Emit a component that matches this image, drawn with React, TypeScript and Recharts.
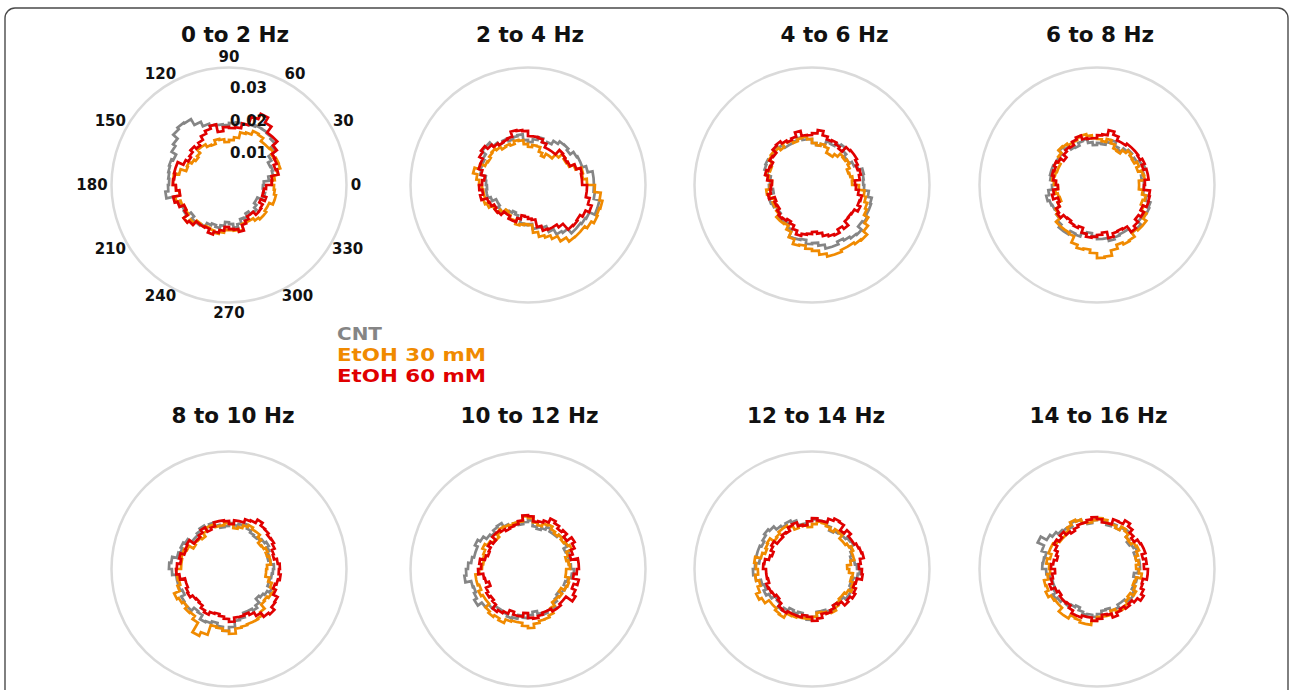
import React from 'react';
import { RadarChart, Radar, PolarAngleAxis, PolarRadiusAxis } from 'recharts';

// Phase histograms: 60 bins of 6° starting at 0°, probabilities in units of 1e-4
const UNIT = 1e-4;
const BIN_DEG = 6;

const cnt_0_2 = [107, 123, 138, 141, 138, 150, 175, 190, 196, 199, 200, 196, 193, 193, 190, 184, 187, 190, 197, 212, 233, 236, 230, 212, 203, 187, 193, 190, 187, 184, 187, 196, 172, 160, 157, 160, 144, 153, 153, 147, 135, 129, 135, 126, 114, 120, 132, 123, 110, 113, 101, 110, 113, 104, 95, 95, 110, 113, 107, 104];
const etoh30_0_2 = [132, 141, 153, 165, 166, 160, 169, 166, 166, 178, 181, 169, 165, 147, 138, 132, 141, 144, 132, 135, 144, 144, 132, 126, 132, 141, 138, 156, 172, 172, 163, 154, 169, 156, 151, 153, 172, 159, 147, 150, 144, 147, 153, 147, 138, 138, 141, 144, 126, 126, 126, 135, 141, 141, 135, 135, 147, 147, 141, 138];
const etoh60_0_2 = [131, 133, 155, 150, 160, 163, 181, 199, 199, 221, 239, 221, 193, 178, 175, 178, 166, 190, 181, 172, 160, 150, 159, 150, 144, 153, 172, 172, 169, 172, 163, 153, 175, 166, 151, 157, 172, 165, 150, 150, 147, 159, 150, 141, 129, 135, 138, 147, 129, 120, 111, 111, 123, 122, 119, 107, 120, 107, 108, 114];

const cnt_2_4 = [202, 202, 187, 175, 175, 172, 160, 166, 165, 156, 144, 138, 150, 141, 132, 138, 156, 153, 147, 156, 150, 160, 175, 175, 160, 154, 153, 150, 132, 129, 126, 129, 129, 120, 107, 107, 113, 116, 104, 98, 92, 98, 107, 119, 123, 120, 135, 135, 138, 157, 175, 181, 199, 199, 203, 206, 224, 224, 206, 202];
const etoh30_2_4 = [181, 169, 172, 153, 138, 135, 141, 126, 110, 110, 98, 107, 122, 123, 117, 126, 138, 141, 132, 138, 135, 144, 150, 147, 141, 144, 159, 172, 159, 150, 141, 138, 138, 144, 138, 126, 126, 114, 101, 107, 116, 116, 126, 123, 120, 123, 147, 162, 169, 181, 199, 214, 215, 215, 224, 233, 230, 233, 224, 205];
const etoh60_2_4 = [166, 166, 169, 156, 141, 138, 141, 144, 126, 126, 126, 138, 147, 150, 150, 166, 169, 172, 156, 153, 151, 157, 166, 178, 172, 160, 159, 147, 135, 141, 150, 141, 150, 132, 129, 120, 126, 123, 110, 110, 119, 119, 107, 95, 98, 104, 108, 132, 147, 150, 150, 160, 184, 187, 184, 193, 205, 193, 181, 181];

const cnt_4_6 = [157, 159, 162, 150, 141, 132, 132, 141, 153, 147, 138, 141, 129, 123, 129, 141, 141, 150, 144, 141, 141, 153, 159, 150, 150, 156, 153, 141, 129, 129, 132, 120, 135, 138, 135, 129, 129, 144, 141, 138, 150, 172, 172, 169, 181, 178, 187, 199, 199, 190, 196, 202, 205, 190, 196, 190, 190, 187, 175, 160];
const etoh30_4_6 = [123, 126, 120, 117, 126, 132, 126, 129, 117, 107, 108, 123, 129, 123, 129, 141, 150, 147, 141, 150, 156, 144, 153, 156, 153, 141, 135, 144, 135, 123, 129, 141, 135, 123, 132, 126, 135, 147, 147, 144, 157, 175, 190, 187, 196, 202, 215, 224, 224, 218, 218, 224, 227, 212, 199, 184, 178, 169, 162, 144];
const etoh60_4_6 = [132, 147, 153, 147, 153, 159, 159, 156, 138, 144, 150, 147, 156, 169, 159, 153, 154, 169, 156, 151, 157, 165, 162, 147, 150, 138, 141, 147, 138, 123, 126, 129, 138, 120, 126, 123, 132, 138, 135, 129, 135, 147, 159, 153, 150, 144, 150, 160, 165, 169, 157, 166, 150, 148, 150, 162, 153, 156, 144, 135];

const cnt_6_8 = [144, 138, 147, 156, 150, 141, 135, 144, 138, 126, 132, 144, 135, 126, 129, 123, 132, 144, 141, 132, 135, 147, 156, 144, 144, 144, 147, 147, 144, 132, 138, 150, 159, 153, 150, 147, 154, 163, 175, 175, 163, 166, 154, 148, 157, 166, 166, 175, 169, 166, 166, 181, 181, 169, 169, 175, 172, 156, 144, 144];
const etoh30_6_8 = [129, 147, 144, 132, 141, 132, 135, 141, 132, 120, 123, 135, 144, 135, 141, 144, 153, 159, 156, 150, 150, 156, 159, 147, 138, 129, 129, 132, 138, 132, 120, 129, 123, 120, 132, 147, 153, 169, 169, 169, 172, 193, 202, 199, 209, 224, 221, 205, 193, 199, 196, 181, 187, 187, 175, 157, 147, 153, 141, 129];
const etoh60_6_8 = [147, 159, 159, 150, 160, 153, 156, 156, 156, 150, 150, 162, 172, 156, 153, 144, 144, 147, 159, 153, 141, 144, 138, 126, 138, 144, 138, 141, 135, 126, 120, 135, 141, 126, 132, 144, 150, 138, 135, 141, 144, 138, 153, 162, 159, 153, 147, 166, 156, 154, 157, 178, 169, 157, 166, 154, 166, 165, 163, 144];

const cnt_8_10 = [138, 129, 123, 129, 135, 141, 135, 129, 126, 129, 135, 147, 141, 135, 141, 132, 129, 138, 150, 144, 153, 147, 141, 141, 156, 162, 157, 163, 178, 184, 175, 163, 163, 163, 157, 169, 172, 172, 160, 163, 178, 175, 169, 178, 190, 178, 160, 156, 141, 141, 147, 138, 123, 129, 135, 144, 129, 129, 132, 135];
const etoh30_8_10 = [117, 129, 129, 123, 129, 123, 120, 132, 141, 141, 147, 141, 132, 126, 138, 141, 135, 135, 144, 144, 135, 123, 129, 132, 126, 141, 150, 150, 147, 147, 162, 160, 157, 166, 184, 178, 172, 181, 178, 190, 224, 212, 181, 184, 190, 199, 184, 181, 178, 178, 175, 163, 147, 144, 150, 153, 138, 126, 114, 114];
const etoh60_8_10 = [156, 150, 141, 144, 153, 159, 157, 163, 165, 175, 163, 160, 150, 150, 138, 147, 150, 150, 138, 132, 147, 138, 132, 132, 150, 147, 144, 156, 150, 160, 162, 153, 138, 138, 144, 147, 138, 135, 138, 147, 153, 144, 141, 147, 153, 162, 150, 150, 147, 154, 166, 181, 187, 175, 172, 157, 148, 153, 159, 153];

const cnt_10_12 = [132, 126, 129, 135, 126, 138, 147, 141, 132, 132, 141, 132, 126, 132, 150, 144, 138, 147, 141, 150, 162, 159, 151, 157, 169, 178, 169, 169, 175, 184, 190, 196, 178, 175, 181, 190, 175, 163, 151, 150, 153, 159, 156, 144, 150, 141, 132, 141, 147, 141, 144, 132, 123, 117, 126, 129, 120, 126, 135, 141];
const etoh30_10_12 = [129, 126, 120, 129, 147, 141, 135, 141, 135, 141, 150, 147, 138, 144, 156, 162, 147, 147, 144, 147, 150, 141, 132, 135, 144, 153, 144, 141, 138, 141, 150, 162, 162, 157, 166, 160, 160, 175, 181, 175, 181, 169, 166, 166, 175, 181, 169, 163, 162, 156, 138, 126, 126, 129, 117, 129, 132, 129, 117, 117];
const etoh60_10_12 = [156, 156, 135, 144, 156, 165, 147, 160, 153, 162, 169, 156, 150, 147, 162, 165, 150, 141, 138, 135, 141, 147, 147, 132, 141, 132, 129, 135, 150, 144, 153, 138, 135, 126, 141, 147, 141, 147, 162, 156, 150, 138, 147, 147, 135, 150, 153, 147, 141, 141, 150, 150, 144, 144, 168, 159, 147, 159, 141, 150];

const cnt_12_14 = [138, 132, 123, 129, 135, 147, 144, 138, 144, 135, 129, 141, 150, 150, 153, 147, 141, 141, 156, 162, 157, 163, 175, 181, 175, 169, 175, 175, 163, 175, 181, 175, 160, 154, 162, 153, 141, 144, 156, 147, 138, 144, 138, 144, 156, 147, 132, 132, 138, 144, 129, 129, 129, 138, 138, 132, 126, 129, 141, 147];
const etoh30_12_14 = [108, 120, 132, 132, 138, 132, 126, 126, 138, 141, 132, 138, 144, 147, 138, 129, 135, 138, 132, 144, 153, 153, 147, 144, 159, 156, 151, 160, 178, 172, 166, 175, 166, 175, 187, 178, 163, 163, 169, 172, 157, 156, 153, 153, 153, 147, 135, 138, 144, 147, 138, 129, 123, 123, 129, 138, 132, 123, 126, 114];
const etoh60_12_14 = [144, 150, 162, 159, 156, 150, 150, 160, 147, 166, 169, 162, 150, 150, 156, 147, 135, 138, 150, 147, 135, 138, 132, 132, 144, 138, 129, 135, 147, 150, 141, 141, 138, 147, 144, 141, 135, 141, 153, 156, 150, 150, 151, 144, 147, 159, 153, 141, 144, 138, 129, 135, 150, 144, 153, 147, 138, 141, 156, 153];

const cnt_14_16 = [132, 132, 123, 123, 135, 129, 123, 132, 150, 147, 138, 147, 138, 147, 156, 150, 141, 147, 159, 162, 150, 156, 160, 169, 178, 199, 178, 163, 166, 168, 156, 147, 141, 141, 147, 156, 150, 141, 144, 135, 129, 138, 144, 141, 147, 138, 129, 126, 135, 135, 126, 126, 138, 138, 132, 123, 123, 126, 114, 126];
const etoh30_14_16 = [120, 129, 123, 132, 141, 138, 129, 132, 144, 150, 138, 144, 144, 153, 156, 150, 144, 147, 159, 165, 156, 147, 141, 141, 147, 156, 156, 147, 156, 147, 144, 153, 166, 163, 172, 163, 160, 160, 175, 175, 163, 166, 172, 172, 159, 147, 147, 147, 135, 144, 147, 141, 132, 126, 138, 129, 120, 123, 138, 129];
const etoh60_14_16 = [144, 153, 144, 156, 156, 153, 141, 150, 162, 172, 159, 160, 144, 144, 153, 159, 153, 147, 147, 141, 135, 141, 153, 144, 153, 141, 132, 126, 135, 141, 129, 138, 144, 153, 141, 135, 141, 141, 138, 147, 156, 156, 150, 150, 159, 153, 141, 144, 156, 147, 141, 150, 144, 153, 165, 156, 147, 144, 156, 156];

const bandTitles = ['0 to 2 Hz', '2 to 4 Hz', '4 to 6 Hz', '6 to 8 Hz', '8 to 10 Hz', '10 to 12 Hz', '12 to 14 Hz', '14 to 16 Hz'];
const cntBins = [cnt_0_2, cnt_2_4, cnt_4_6, cnt_6_8, cnt_8_10, cnt_10_12, cnt_12_14, cnt_14_16];
const etoh30Bins = [etoh30_0_2, etoh30_2_4, etoh30_4_6, etoh30_6_8, etoh30_8_10, etoh30_10_12, etoh30_12_14, etoh30_14_16];
const etoh60Bins = [etoh60_0_2, etoh60_2_4, etoh60_4_6, etoh60_6_8, etoh60_8_10, etoh60_10_12, etoh60_12_14, etoh60_14_16];

const seriesNames = ['CNT', 'EtOH 30 mM', 'EtOH 60 mM'];
const seriesColors = ['#858585', '#f08a00', '#e00000'];
const legendWidths = [45, 149, 149];
const angleTicks = [0, 30, 60, 90, 120, 150, 180, 210, 240, 270, 300, 330];
const radiusTicks = [0.01, 0.02, 0.03];
const R_MAX = 0.036;

const FONT = '"DejaVu Sans", Verdana, sans-serif';

// layout
const colX = [228.5, 527.5, 812, 1097];
const rowY = [185, 568.5];
const titleX = [235, 530, 834.5, 1100, 233, 529.5, 816, 1098.5];
const titleY = [41.5, 423];
const BOX = 320;
const OUTER_R = 117.5;

// each bin becomes two points (bin start and end) so the outline is drawn as steps
const toSteps = (i: number) =>
  cntBins[i].flatMap((_, k) =>
    [0, 1].map((j) => ({
      angle: (k + j) * BIN_DEG,
      cnt: cntBins[i][k] * UNIT,
      e30: etoh30Bins[i][k] * UNIT,
      e60: etoh60Bins[i][k] * UNIT,
    }))
  );

const AngleTick = (props: any) => {
  const { x, y, payload } = props;
  const a = (payload.coordinate * Math.PI) / 180;
  const label = String(payload.value);
  const hw = label.length * 5;
  return (
    <text
      x={x + Math.cos(a) * (hw - 3.5)}
      y={y - Math.sin(a) * 2.5}
      textAnchor="middle"
      dominantBaseline="central"
      fontFamily={FONT}
      fontWeight="bold"
      fontSize={15}
      fill="#111"
    >
      {label}
    </text>
  );
};

const RadiusTick = (props: any) => {
  const { x, y, payload } = props;
  return (
    <text x={x + 1} y={y + 1} dominantBaseline="central" fontFamily={FONT} fontWeight="bold" fontSize={15} fill="#111">
      {payload.value}
    </text>
  );
};

const Panel = ({ index }: { index: number }) => {
  const first = index === 0;
  const cx = colX[index % 4];
  const cy = rowY[Math.floor(index / 4)];
  return (
    <div style={{ position: 'absolute', left: cx - BOX / 2, top: cy - BOX / 2 }}>
      <RadarChart
        width={BOX}
        height={BOX}
        cx={BOX / 2}
        cy={BOX / 2}
        outerRadius={OUTER_R}
        startAngle={0}
        endAngle={360}
        margin={{ top: 0, right: 0, bottom: 0, left: 0 }}
        data={toSteps(index)}
      >
        <PolarAngleAxis
          dataKey="angle"
          type="number"
          domain={[0, 360]}
          ticks={angleTicks}
          axisLineType="circle"
          axisLine={{ stroke: '#dadada', strokeWidth: 2.5 }}
          tickLine={false}
          tick={first ? <AngleTick /> : false}
        />
        <PolarRadiusAxis
          angle={90}
          domain={[0, R_MAX]}
          ticks={radiusTicks as any}
          axisLine={false}
          tick={first ? <RadiusTick /> : false}
        />
        {['cnt', 'e30', 'e60'].map((key, s) => (
          <Radar
            key={key}
            dataKey={key}
            name={seriesNames[s]}
            stroke={seriesColors[s]}
            strokeWidth={2.7}
            fill="none"
            fillOpacity={0}
            dot={false}
            isAnimationActive={false}
          />
        ))}
      </RadarChart>
    </div>
  );
};

export default function App() {
  return (
    <div style={{ position: 'absolute', left: 0, top: 0, width: 1290, height: 690, overflow: 'hidden', background: '#fff' }}>
      <svg width={1290} height={690} style={{ position: 'absolute', left: 0, top: 0 }}>
        <rect x={5} y={8} width={1283} height={720} rx={10} fill="none" stroke="#4a4a4a" strokeWidth={1.4} />
        {bandTitles.map((t, i) => (
          <text
            key={t}
            x={titleX[i]}
            y={titleY[Math.floor(i / 4)]}
            textAnchor="middle"
            fontFamily={FONT}
            fontWeight="bold"
            fontSize={21.5}
            fill="#111"
          >
            {t}
          </text>
        ))}
        {seriesNames.map((n, s) => (
          <text
            key={n}
            x={337}
            y={340 + s * 21}
            fontFamily={FONT}
            fontWeight="bold"
            fontSize={18.5}
            textLength={legendWidths[s]}
            lengthAdjust="spacingAndGlyphs"
            fill={seriesColors[s]}
          >
            {n}
          </text>
        ))}
      </svg>
      {bandTitles.map((t, i) => (
        <Panel key={t} index={i} />
      ))}
    </div>
  );
}
